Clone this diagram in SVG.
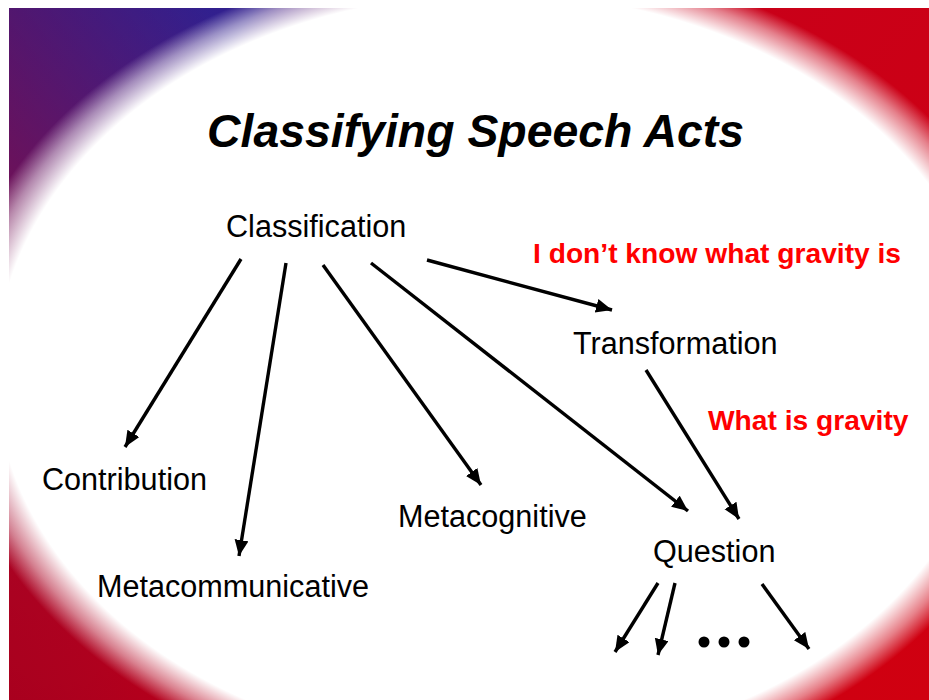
<svg xmlns="http://www.w3.org/2000/svg" width="929" height="700" viewBox="0 0 929 700">
<defs>
<style>
.lbl{font-family:"Liberation Sans",Arial,sans-serif;font-size:30.6px;fill:#000}
.red{font-family:"Liberation Sans",Arial,sans-serif;font-size:28.2px;font-weight:bold;fill:#ff0000}
.title{font-family:"Liberation Sans",Arial,sans-serif;font-size:46.4px;font-weight:bold;font-style:italic;fill:#000}
.arr line{stroke:#000;stroke-width:3.4;marker-end:url(#ah)}
</style>
<marker id="ah" markerUnits="userSpaceOnUse" markerWidth="17" markerHeight="15" refX="16" refY="7" orient="auto">
<path d="M0,0 L16,7 L0,14 z" fill="#000"/>
</marker>
<linearGradient id="bg" gradientUnits="userSpaceOnUse" x1="0" y1="0" x2="929" y2="700">
<stop offset="0" stop-color="#2a1e8e"/>
<stop offset="0.18" stop-color="#33208e"/>
<stop offset="0.3" stop-color="#a01040"/>
<stop offset="0.45" stop-color="#c8001a"/>
<stop offset="1" stop-color="#d00010"/>
</linearGradient>
<linearGradient id="bg2" gradientUnits="userSpaceOnUse" x1="0" y1="700" x2="929" y2="0">
<stop offset="0" stop-color="#a8001e"/>
<stop offset="0.5" stop-color="#c00018" stop-opacity="0"/>
</linearGradient>
<radialGradient id="wh" cx="0.5" cy="0.5" r="0.5">
<stop offset="0" stop-color="#fff" stop-opacity="1"/>
<stop offset="0.9" stop-color="#fff" stop-opacity="1"/>
<stop offset="0.95" stop-color="#fff" stop-opacity="0.5"/>
<stop offset="0.99" stop-color="#fff" stop-opacity="0"/>
</radialGradient>
</defs>
<g id="background">
<rect x="0" y="0" width="929" height="700" fill="#fff"/>
<rect x="9" y="8" width="920" height="692" fill="url(#bg)"/>
<rect x="9" y="8" width="920" height="692" fill="url(#bg2)"/>
<ellipse cx="495" cy="372" rx="555" ry="420" fill="url(#wh)"/>
</g>
<g id="title"><text class="title" x="207" y="147">Classifying Speech Acts</text></g>
<g class="arr" id="connectors">
<line x1="241" y1="259" x2="125" y2="447"/>
<line x1="286" y1="263" x2="239" y2="556"/>
<line x1="323" y1="265" x2="481" y2="485"/>
<line x1="371" y1="263" x2="688" y2="511"/>
<line x1="427" y1="260" x2="612" y2="310"/>
<line x1="646" y1="370" x2="739" y2="519"/>
<line x1="658" y1="583" x2="615" y2="652"/>
<line x1="675" y1="583" x2="658" y2="655"/>
<line x1="762" y1="584" x2="809" y2="649"/>
</g>
<g id="classification"><text class="lbl" x="226" y="237">Classification</text></g>
<g id="transformation"><text class="lbl" x="573" y="354">Transformation</text></g>
<g id="contribution"><text class="lbl" x="42" y="490">Contribution</text></g>
<g id="metacognitive"><text class="lbl" x="398" y="527">Metacognitive</text></g>
<g id="metacommunicative"><text class="lbl" x="97" y="597">Metacommunicative</text></g>
<g id="question"><text class="lbl" x="653" y="562">Question</text></g>
<g id="note1"><text class="red" x="533" y="263">I don’t know what gravity is</text></g>
<g id="note2"><text class="red" x="708" y="430">What is gravity</text></g>
<g id="ellipsis">
<circle cx="704" cy="642" r="5.5" fill="#000"/>
<circle cx="724" cy="642" r="5.5" fill="#000"/>
<circle cx="744" cy="642" r="5.5" fill="#000"/>
</g>
</svg>
